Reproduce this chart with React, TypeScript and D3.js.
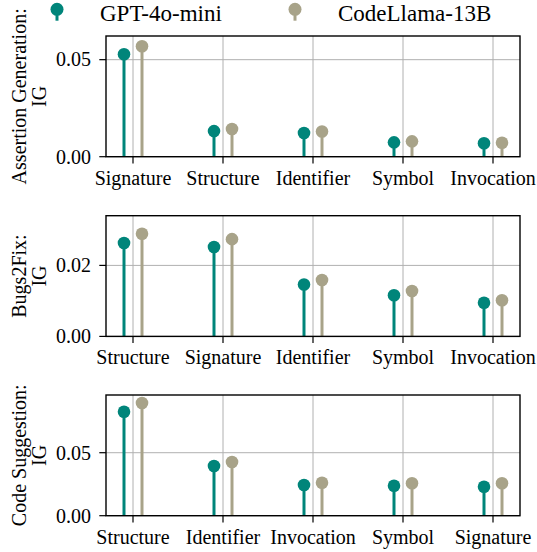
import React from 'react';
import * as d3 from 'd3';

// categories per task (order as shown)
const assertCats = ['Signature', 'Structure', 'Identifier', 'Symbol', 'Invocation'];
const bugsCats = ['Structure', 'Signature', 'Identifier', 'Symbol', 'Invocation'];
const suggCats = ['Structure', 'Identifier', 'Invocation', 'Symbol', 'Signature'];

// information gain values
const assertGpt = [0.0528, 0.0132, 0.0122, 0.0074, 0.0069];
const assertLlama = [0.0569, 0.0143, 0.0130, 0.0079, 0.0072];
const bugsGpt = [0.0263, 0.0252, 0.0146, 0.0116, 0.0095];
const bugsLlama = [0.0289, 0.0274, 0.0159, 0.0128, 0.0102];
const suggGpt = [0.0825, 0.0394, 0.0244, 0.0238, 0.0230];
const suggLlama = [0.0894, 0.0426, 0.0262, 0.0257, 0.0257];

const assertTicks = [0, 0.05];
const bugsTicks = [0, 0.02];
const suggTicks = [0, 0.05];

const seriesNames = ['GPT-4o-mini', 'CodeLlama-13B'];
const colors = ['#00857a', '#a8a389'];

const panels = [
  { title: 'Assertion Generation:', cats: assertCats, vals: [assertGpt, assertLlama], ticks: assertTicks, ymax: 0.0622, top: 36 },
  { title: 'Bugs2Fix:', cats: bugsCats, vals: [bugsGpt, bugsLlama], ticks: bugsTicks, ymax: 0.034, top: 215.7 },
  { title: 'Code Suggestion:', cats: suggCats, vals: [suggGpt, suggLlama], ticks: suggTicks, ymax: 0.0958, top: 395 },
];

const W = 537, H = 552;
const left = 106, right = 520, ph = 120.7;
const font = "'Liberation Serif', 'Times New Roman', 'DejaVu Serif', serif";
const fs = 20;
const offs = [-0.1, 0.1];

const Panel = ({ p }: { p: typeof panels[0] }) => {
  const x = d3.scaleLinear().domain([-0.3, 4.3]).range([left, right]);
  const y = d3.scaleLinear().domain([0, p.ymax]).range([p.top + ph, p.top]);
  const bottom = p.top + ph;
  const cy = p.top + ph / 2;
  return (
    <g>
      {/* grid */}
      {p.cats.map((c, i) => (
        <line key={'gx' + c} x1={x(i)} x2={x(i)} y1={p.top} y2={bottom} stroke="#b0b0b0" strokeWidth={1} />
      ))}
      {p.ticks.map(t => (
        <line key={'gy' + t} x1={left} x2={right} y1={y(t)} y2={y(t)} stroke="#b0b0b0" strokeWidth={1} />
      ))}
      {/* stems */}
      {p.vals.map((vs, s) =>
        vs.map((v, i) => (
          <g key={s + '-' + i}>
            <line x1={x(i + offs[s])} x2={x(i + offs[s])} y1={y(0)} y2={y(v)} stroke={colors[s]} strokeWidth={3} />
            <circle cx={x(i + offs[s])} cy={y(v)} r={6.3} fill={colors[s]} />
          </g>
        ))
      )}
      {/* frame */}
      <rect x={left} y={p.top} width={right - left} height={ph} fill="none" stroke="#000" strokeWidth={1.4} />
      {/* x ticks */}
      {p.cats.map((c, i) => (
        <g key={'xt' + c}>
          <line x1={x(i)} x2={x(i)} y1={bottom} y2={bottom + 6.7} stroke="#000" strokeWidth={1.2} />
          <text x={x(i)} y={bottom + 27.8} textAnchor="middle" fontSize={fs} style={{ fontFamily: font }}>{c}</text>
        </g>
      ))}
      {/* y ticks */}
      {p.ticks.map(t => (
        <g key={'yt' + t}>
          <line x1={left - 6.7} x2={left} y1={y(t)} y2={y(t)} stroke="#000" strokeWidth={1.2} />
          <text x={91} y={y(t) + 6.8} textAnchor="end" fontSize={fs} style={{ fontFamily: font }}>{d3.format('.2f')(t)}</text>
        </g>
      ))}
      {/* y label */}
      <text transform={`translate(25.5,${cy}) rotate(-90)`} textAnchor="middle" fontSize={fs} style={{ fontFamily: font }}>{p.title}</text>
      <text transform={`translate(45.5,${cy}) rotate(-90)`} textAnchor="middle" fontSize={fs} style={{ fontFamily: font }}>IG</text>
    </g>
  );
};

export default function App() {
  const legendX = [57, 295];
  return (
    <svg width={W} height={H} style={{ position: 'absolute', left: 0, top: 0, background: '#fff' }}>
      <rect width={W} height={H} fill="#fff" />
      {panels.map((p, k) => <Panel key={k} p={p} />)}
      {seriesNames.map((n, s) => (
        <g key={n}>
          <line x1={legendX[s]} x2={legendX[s]} y1={9.3} y2={20.7} stroke={colors[s]} strokeWidth={3} />
          <circle cx={legendX[s]} cy={9.3} r={6.5} fill={colors[s]} />
          <text x={legendX[s] + 43} y={20.7} fontSize={23} style={{ fontFamily: font }}>{n}</text>
        </g>
      ))}
    </svg>
  );
}
